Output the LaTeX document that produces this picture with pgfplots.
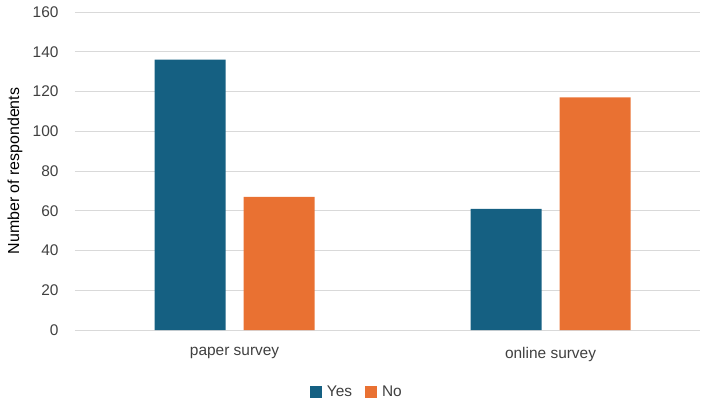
\documentclass[border=0pt]{standalone}
\usepackage{pgfplots}
\pgfplotsset{compat=1.18}
\usepackage{fontspec}
\setmainfont{Liberation Sans}
\definecolor{cyes}{HTML}{156082}
\definecolor{cno}{HTML}{E97132}
\definecolor{gridc}{HTML}{D9D9D9}
\definecolor{txt}{HTML}{404040}
\begin{document}
\begin{tikzpicture}
\begin{axis}[
  name=ax,
  scale only axis,
  width=625bp, height=318bp,
  ymin=0, ymax=160,
  ytick={0,20,...,160},
  xmin=-0.505, xmax=1.473,
  xtick={0,1},
  xticklabels={paper survey, online survey},
  ybar=18bp,
  bar width=71bp,
  ymajorgrids,
  grid style={gridc, line width=0.8pt},
  axis x line*=bottom,
  axis y line*=left,
  y axis line style={draw=none},
  x axis line style={gridc, line width=0.8pt, -},
  major tick length=0pt,
  ticklabel style={font=\fontsize{15.5}{18}\selectfont, text=txt},
  yticklabel style={xshift=-13bp},
  xticklabel style={yshift=-14bp},
  ylabel={Number of respondents},
  every axis y label/.style={at={(axis description cs:-0.096,0.5)}, rotate=90, anchor=center, font=\fontsize{16}{18}\selectfont, text=black},
  /pgf/number format/assume math mode=true,
  legend style={at={(axis description cs:0.451,0)}, anchor=north, yshift=-52bp, draw=none, font=\fontsize{15.5}{18}\selectfont, text=txt, legend columns=2, /tikz/every odd column/.append style={column sep=3bp}, /tikz/every even column/.append style={column sep=11bp}},
  legend image code/.code={\fill[#1, draw=none] (0bp,-6bp) rectangle (12bp,6bp);},
]
\addplot[fill=cyes, draw=none] coordinates {(0,136) (1,61)};
\addplot[fill=cno, draw=none] coordinates {(0,67) (1,117)};
\legend{Yes, No}
\end{axis}
\path ([xshift=-75bp,yshift=-78bp]ax.south west) rectangle ([xshift=14bp,yshift=12bp]ax.north east);
\end{tikzpicture}
\end{document}
